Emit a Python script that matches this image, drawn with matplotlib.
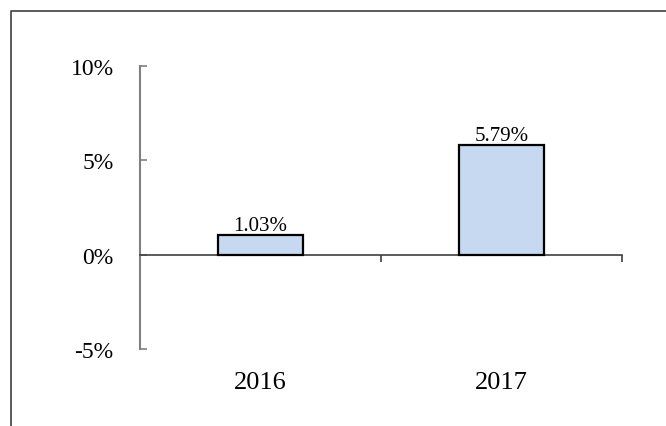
import matplotlib.pyplot as plt
from matplotlib.lines import Line2D
from matplotlib.ticker import FuncFormatter, FixedLocator

# --- data ---
years = ['2016', '2017']
growth = [1.03, 5.79]   # percent
y_ticks = [-5, 0, 5, 10]

plt.rcParams['font.family'] = ['Liberation Serif', 'DejaVu Serif']

W, H = 666, 427
fig = plt.figure(figsize=(W / 100, H / 100), dpi=100, facecolor='white')
ax = fig.add_axes([140 / W, (H - 350) / H, (622 - 140) / W, (350 - 67) / H])

x = list(range(len(years)))
bars = ax.bar(x, growth, width=0.35, color='#C6D9F1', edgecolor='black',
              linewidth=1.6, zorder=3)
ax.bar_label(bars, labels=[f'{v:.2f}%' for v in growth], padding=0,
             fontsize=15)

ax.set_xlim(-0.5, len(years) - 0.5)
ax.set_ylim(y_ticks[0], y_ticks[-1])
ax.set_yticks(y_ticks)
ax.yaxis.set_major_formatter(FuncFormatter(lambda v, p: f'{v:.0f}%'))
ax.tick_params(axis='y', direction='in', length=5, width=1.2, color='#808080',
               pad=19, labelsize=17)

# category axis crossing at zero, labels kept low
for s in ['top', 'right']:
    ax.spines[s].set_visible(False)
ax.spines['left'].set_color('#808080')
ax.spines['left'].set_linewidth(1.5)
ax.spines['bottom'].set_position(('data', 0))
ax.spines['bottom'].set_color('#404040')
ax.spines['bottom'].set_linewidth(1.2)
ax.set_xticks(x)
ax.set_xticklabels(years)
ax.xaxis.set_minor_locator(FixedLocator([i - 0.5 for i in range(len(years) + 1)]))
ax.tick_params(axis='x', which='major', length=0, pad=84, labelsize=19)
ax.tick_params(axis='x', which='minor', direction='out', length=5, width=1.2,
               color='#404040')

# outer frame (cropped screenshot border)
fig.add_artist(Line2D([11 / W, 11 / W, 1], [0, 1 - 12 / H, 1 - 12 / H],
                      color='#404040', linewidth=1.2, transform=fig.transFigure))

fig.savefig('out.png', dpi=100, facecolor='white')
